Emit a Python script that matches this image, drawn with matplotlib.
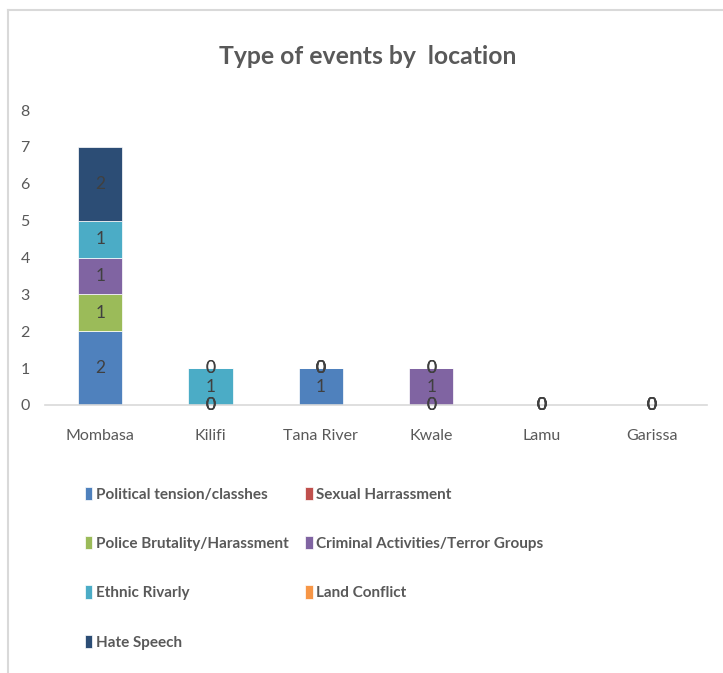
import numpy as np
import matplotlib
matplotlib.use("Agg")
import matplotlib.pyplot as plt
from matplotlib.lines import Line2D

locations = ["Mombasa", "Kilifi", "Tana River", "Kwale", "Lamu", "Garissa"]
series_names = ["Political tension/classhes", "Sexual Harrassment", "Police Brutality/Harassment",
                "Criminal Activities/Terror Groups", "Ethnic Rivarly", "Land Conflict", "Hate Speech"]
political = [2, 0, 1, 0, 0, 0]
sexual = [np.nan, 0, 0, 0, 0, 0]
police = [1, 0, 0, 0, 0, 0]
criminal = [1, 0, 0, 1, 0, 0]
ethnic = [1, 1, 0, 0, 0, 0]
land = [np.nan, 0, 0, 0, 0, 0]
hate = [2, 0, 0, 0, 0, 0]
series_values = [political, sexual, police, criminal, ethnic, land, hate]
colors = ["#4F81BD", "#C0504D", "#9BBB59", "#8064A2", "#4BACC6", "#F79646", "#2C4D75"]
y_ticks = [0, 1, 2, 3, 4, 5, 6, 7, 8]

FONT = ["Lato", "DejaVu Sans"]
plt.rcParams['font.family'] = FONT
TXT = "#595959"

fig = plt.figure(figsize=(7.23, 6.73), dpi=100)
ax = fig.add_axes([45/723, 268/673, 662/723, 295/673])

x = np.arange(len(locations))
bottom = np.zeros(len(locations))
handles = []
for name, vals, c in zip(series_names, series_values, colors):
    v = np.array(vals, dtype=float)
    h = np.nan_to_num(v)
    b = ax.bar(x, h, 0.4, bottom=bottom, color=c, label=name, edgecolor="white", linewidth=0.5)
    handles.append(b)
    for xi, vi, bi in zip(x, v, bottom):
        if not np.isnan(vi):
            ax.text(xi, bi + vi / 2, f"{int(vi)}", ha="center", va="center",
                    fontsize=12.5, color="#404040", family=FONT)
    bottom = bottom + h

ax.set_xlim(-0.5, len(locations) - 0.5)
ax.set_ylim(0, 8)
ax.set_yticks(y_ticks)
ax.set_xticks(x)
ax.set_xticklabels(locations)
for s in ["top", "right", "left"]:
    ax.spines[s].set_visible(False)
ax.spines["bottom"].set_color("#D9D9D9")
ax.spines["bottom"].set_linewidth(1.2)
ax.tick_params(axis="both", length=0, labelsize=11.5, labelcolor=TXT)
ax.tick_params(axis="x", pad=17)
ax.tick_params(axis="y", pad=11)

fig.text(368/723, 1 - 57/673, "Type of events by  location", ha="center", va="center",
         fontsize=17.8, fontweight="bold", color=TXT, family=FONT)

order = [0, 2, 4, 6, 1, 3, 5]
leg = fig.legend([handles[i] for i in order], [series_names[i] for i in order],
                 ncol=2, loc="upper left", bbox_to_anchor=(71/723, 1 - 473/673),
                 frameon=False, handlelength=0.5, handleheight=0.95, handletextpad=0.25,
                 columnspacing=1.05, labelspacing=2.26,
                 prop={"family": FONT, "size": 11, "weight": "bold"})
for t in leg.get_texts():
    t.set_color(TXT)

fig.add_artist(Line2D([8/723, 8/723], [0, 1 - 10/673], transform=fig.transFigure, color="#D9D9D9", lw=1.5))
fig.add_artist(Line2D([8/723, 1], [1 - 10/673, 1 - 10/673], transform=fig.transFigure, color="#D9D9D9", lw=1.5))

fig.savefig("out.png", dpi=100)
